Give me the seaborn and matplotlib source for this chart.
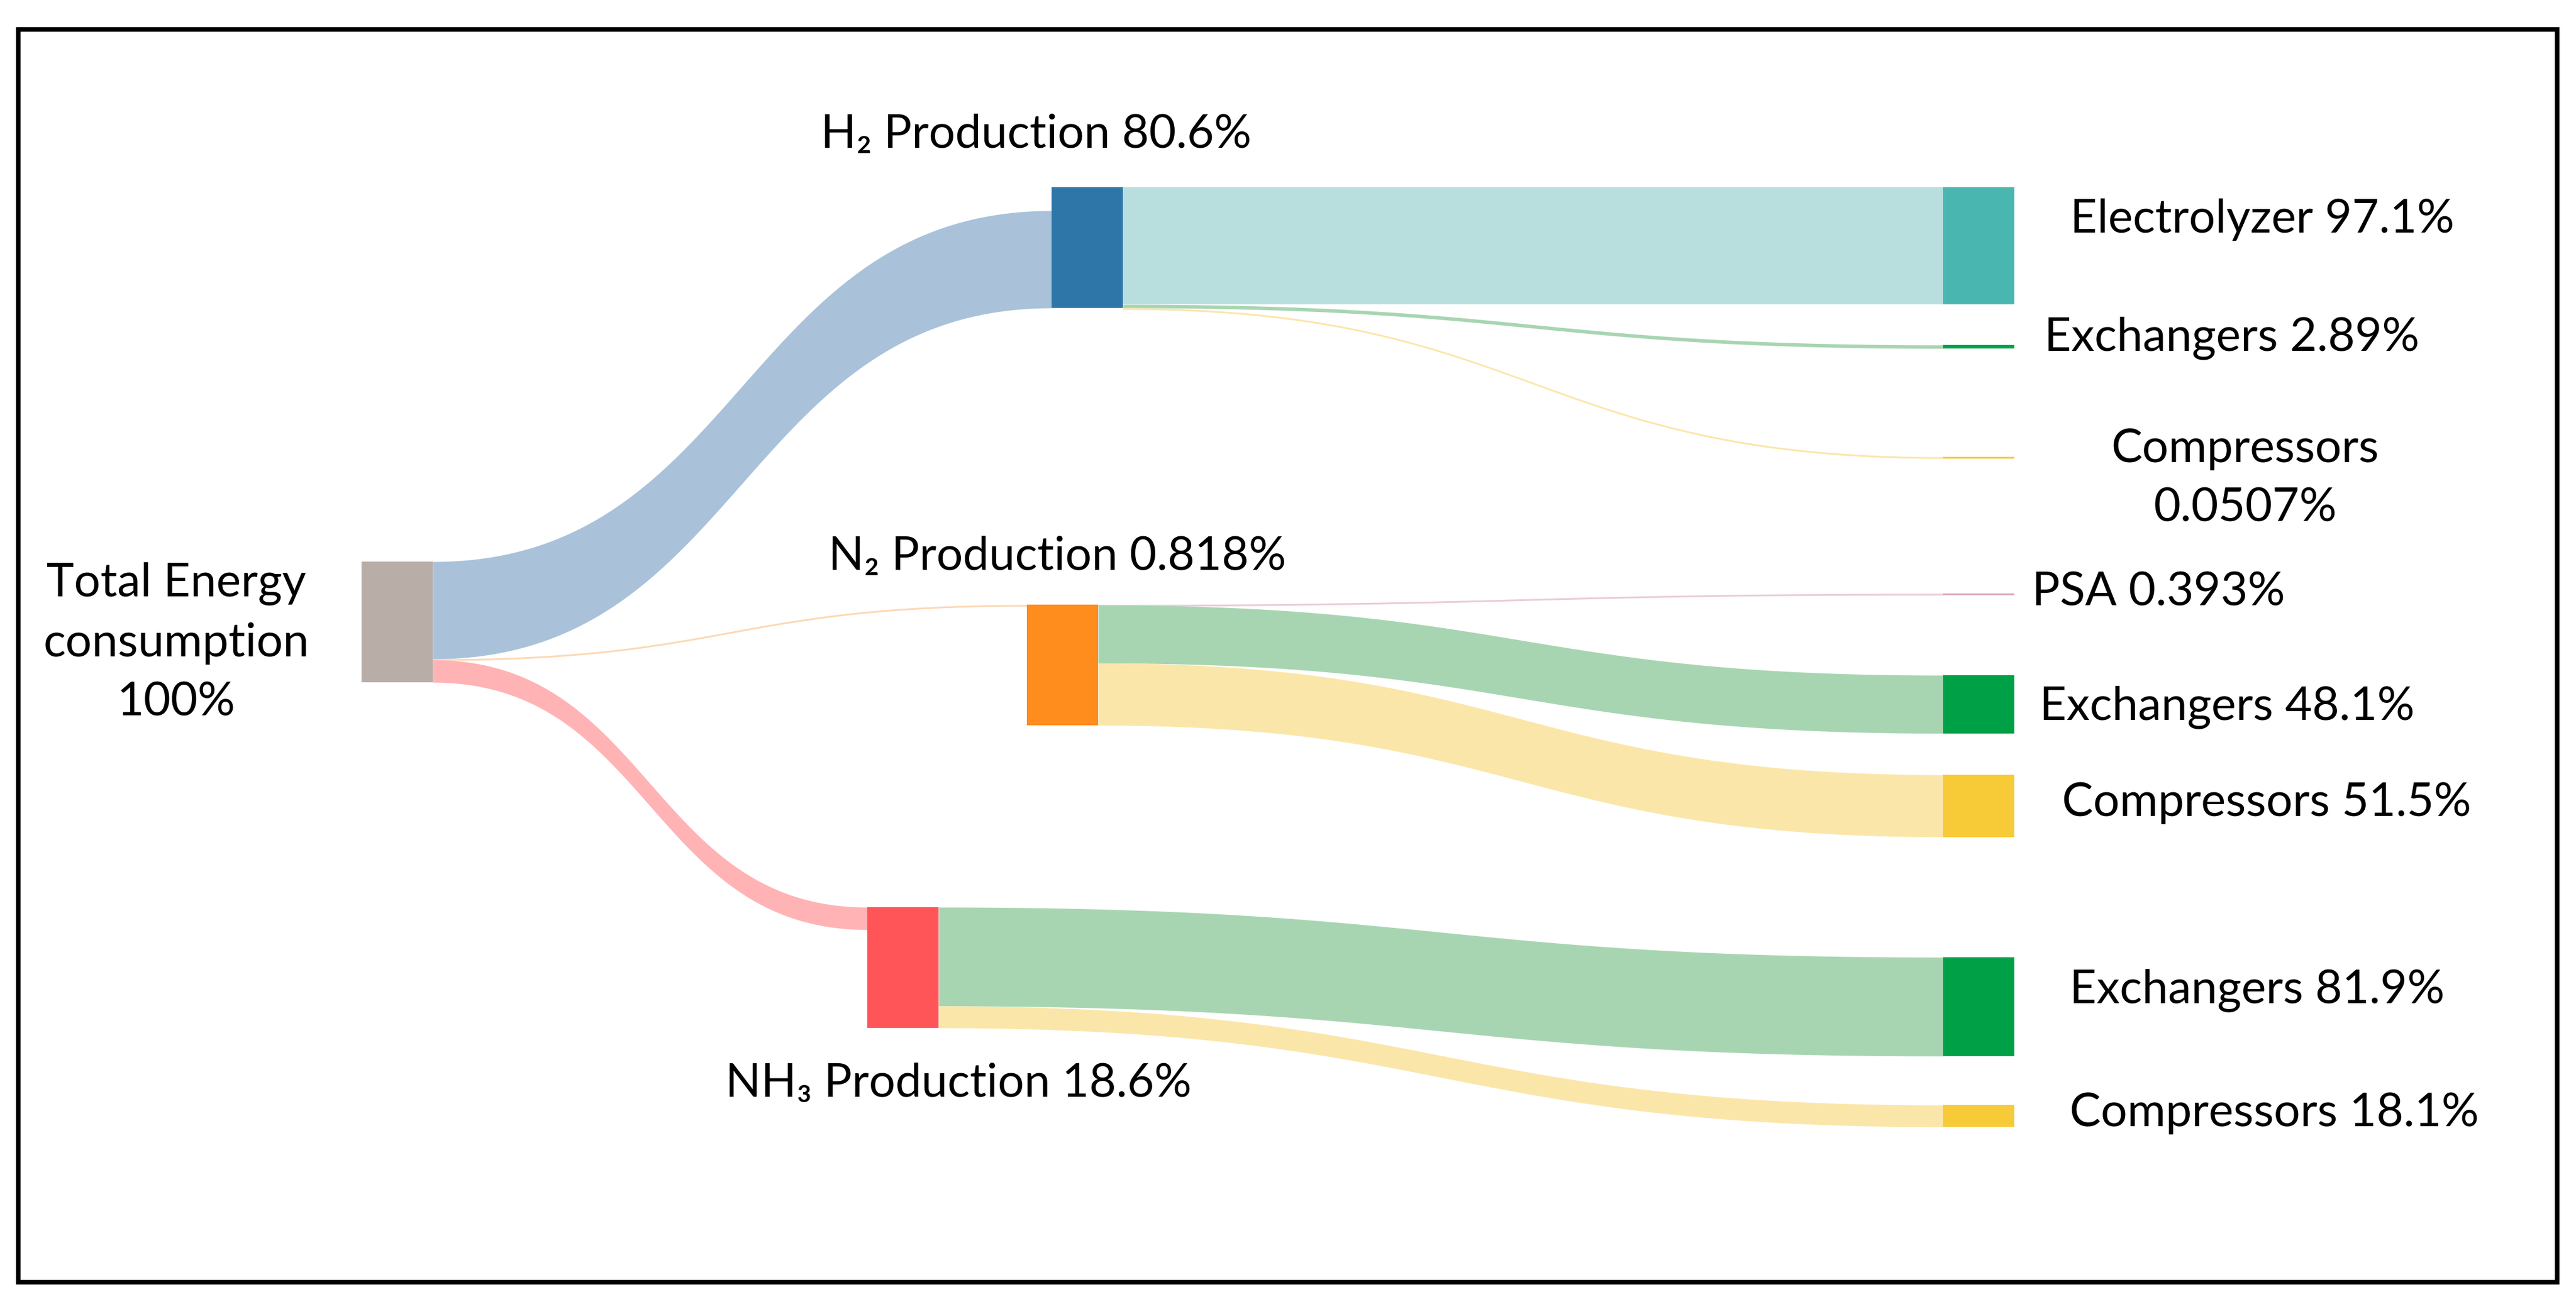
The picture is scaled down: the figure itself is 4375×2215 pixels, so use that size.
import numpy as np
import matplotlib.pyplot as plt
import seaborn as sns
from matplotlib.patches import Rectangle

# ------------------------------------------------------------------
# flows: percentage of each parent node that goes to the child node
# ------------------------------------------------------------------
sources = ["total", "total", "total",
           "h2", "h2", "h2",
           "n2", "n2", "n2",
           "nh3", "nh3"]
targets = ["h2", "n2", "nh3",
           "electrolyzer", "exch_h2", "comp_h2",
           "psa", "exch_n2", "comp_n2",
           "exch_nh3", "comp_nh3"]
values = [80.6, 0.818, 18.6,
          97.1, 2.89, 0.0507,
          0.393, 48.1, 51.5,
          81.9, 18.1]

node_ids = ["total", "h2", "n2", "nh3", "electrolyzer", "exch_h2", "comp_h2",
            "psa", "exch_n2", "comp_n2", "exch_nh3", "comp_nh3"]
node_names = ["Total Energy\nconsumption", "H\u2082 Production", "N\u2082 Production",
              "NH\u2083 Production", "Electrolyzer", "Exchangers", "Compressors",
              "PSA", "Exchangers", "Compressors", "Exchangers", "Compressors"]

# ------------------------------------------------------------------
# colours
# ------------------------------------------------------------------
node_color = {"total": "#B9ADA8", "h2": "#2E76A7", "n2": "#FF8D1E", "nh3": "#FF5559",
              "electrolyzer": "#4AB6B0", "exch_h2": "#00A146", "comp_h2": "#F7CA38",
              "psa": "#D9A6BD", "exch_n2": "#00A146", "comp_n2": "#F7CA38",
              "exch_nh3": "#00A146", "comp_nh3": "#F7CA38"}
link_color = {"h2": "#A9C2DA", "n2": "#FDD8B4", "nh3": "#FFB3B5",
              "electrolyzer": "#B8DFDE", "exch_h2": "#A8D5B1", "comp_h2": "#FBE6AA",
              "psa": "#EBCBD9", "exch_n2": "#A8D5B1", "comp_n2": "#FBE6AA",
              "exch_nh3": "#A8D5B1", "comp_nh3": "#FBE6AA"}

# ------------------------------------------------------------------
# layout (pixels of the 4375 x 2215 canvas)
# ------------------------------------------------------------------
W, H = 4375, 2215
SCALE = 2.05          # px per percent unit
NODE_W = 121
MIN_BAND = 3.0
node_x = {"total": 614, "h2": 1786, "n2": 1744, "nh3": 1473}
node_top = {"total": 954, "h2": 318, "n2": 1027, "nh3": 1541,
            "electrolyzer": 318, "exch_h2": 586, "comp_h2": 776, "psa": 1008,
            "exch_n2": 1147, "comp_n2": 1316, "exch_nh3": 1626, "comp_nh3": 1877}
RIGHT_X = 3300
in_align = {"h2": "bottom"}
label_xy = {"total": (299, 1092), "h2": (1760, 229), "n2": (1796, 946), "nh3": (1628, 1841),
            "electrolyzer": (3842, 373), "exch_h2": (3790, 574), "comp_h2": (3813, 813),
            "psa": (3666, 1006), "exch_n2": (3782, 1201), "comp_n2": (3850, 1364),
            "exch_nh3": (3833, 1682), "comp_nh3": (3863, 1891)}
label_sep = {"total": "\n", "comp_h2": "\n"}

sns.set_theme(style="white")
plt.rcParams["font.family"] = ["Lato", "DejaVu Sans"]

fig = plt.figure(figsize=(W / 100, H / 100), dpi=100)
ax = fig.add_axes([0, 0, 1, 1])
ax.set_xlim(0, W)
ax.set_ylim(H, 0)
ax.axis("off")

# node sizes from the flows
inflow = {n: 0.0 for n in node_ids}
outflow = {n: 0.0 for n in node_ids}
for s, t, v in zip(sources, targets, values):
    outflow[s] += v
    inflow[t] += v
node_val = {n: (outflow[n] if inflow[n] == 0 else inflow[n]) for n in node_ids}
node_h = {n: max(inflow[n], outflow[n]) * SCALE for n in node_ids}
for n in node_ids:
    node_x.setdefault(n, RIGHT_X)


def bezier_band(x0, x1, y0a, y0b, y1a, y1b, color):
    t = np.linspace(0, 1, 200)
    xm = (x0 + x1) / 2
    a, b, c, d = (1 - t) ** 3, 3 * (1 - t) ** 2 * t, 3 * (1 - t) * t ** 2, t ** 3
    x = a * x0 + b * xm + c * xm + d * x1
    top = (a + b) * y0a + (c + d) * y1a
    bot = (a + b) * y0b + (c + d) * y1b
    ax.fill_between(x, top, bot, color=color, lw=0, zorder=1)


# links
out_off = {n: 0.0 for n in node_ids}
in_off = {n: 0.0 for n in node_ids}
for n in node_ids:
    if in_align.get(n) == "bottom":
        in_off[n] = node_h[n] - inflow[n] * SCALE
for s, t, v in zip(sources, targets, values):
    h = v * SCALE
    hd = max(h, MIN_BAND)
    y0 = node_top[s] + out_off[s]
    y1 = node_top[t] + in_off[t]
    bezier_band(node_x[s] + NODE_W, node_x[t], y0, y0 + hd, y1, y1 + hd, link_color[t])
    out_off[s] += h
    in_off[t] += h

# nodes
for n in node_ids:
    ax.add_patch(Rectangle((node_x[n], node_top[n]), NODE_W, max(node_h[n], MIN_BAND),
                           color=node_color[n], lw=0, zorder=2))

# labels
for n, name in zip(node_ids, node_names):
    x, y = label_xy[n]
    txt = f"{name}{label_sep.get(n, ' ')}{node_val[n]:.3g}%"
    ax.text(x, y, txt, ha="center", va="center", fontsize=57, color="black",
            linespacing=1.5, zorder=3)

# frame
ax.add_patch(Rectangle((31, 50), 4343 - 31, 2178 - 50, fill=False, ec="black", lw=5.5, zorder=4))

plt.savefig("out.png", dpi=100)
